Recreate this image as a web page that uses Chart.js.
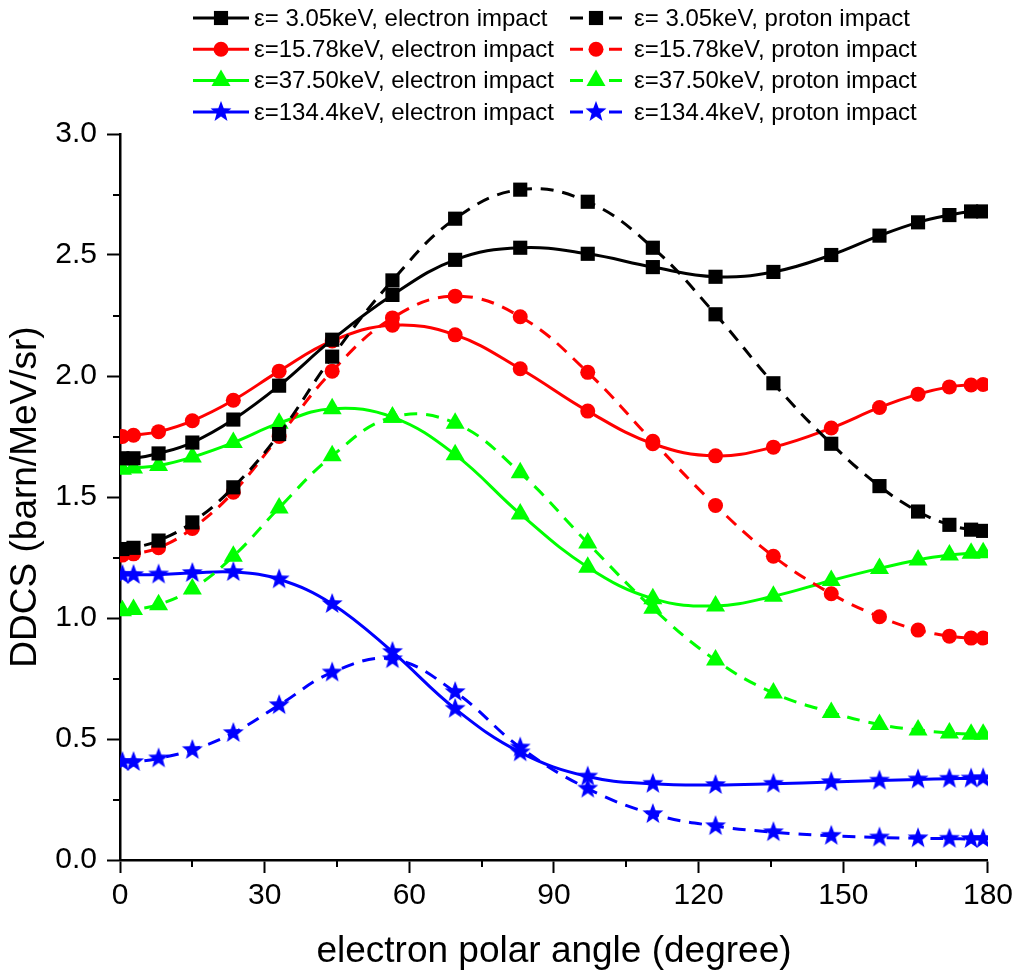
<!DOCTYPE html>
<html>
<head>
<meta charset="utf-8">
<script src="https://cdn.jsdelivr.net/npm/chart.js@4/dist/chart.umd.min.js"></script>
<style>
  html, body { margin: 0; padding: 0; background: #fff; }
  #wrap { width: 1018px; height: 971px; }
</style>
</head>
<body>
<div id="wrap"><canvas id="ddcs" width="1018" height="971"></canvas></div>
<script>
// electron polar angles (degree)
var angles = [0.5, 2.8, 8, 15, 23.5, 33, 44, 56.5, 69.5, 83, 97, 110.5, 123.5, 135.5, 147.5, 157.5, 165.5, 172, 176.5, 179];

// DDCS values (barn/MeV/sr)
var e305El  = [1.66, 1.66, 1.68, 1.725, 1.82, 1.96, 2.15, 2.335, 2.48, 2.53, 2.505, 2.45, 2.41, 2.43, 2.50, 2.58, 2.635, 2.665, 2.68, 2.68];
var e305Pr  = [1.285, 1.29, 1.32, 1.395, 1.54, 1.76, 2.08, 2.395, 2.65, 2.77, 2.72, 2.53, 2.255, 1.97, 1.72, 1.545, 1.44, 1.385, 1.365, 1.36];
var e1578El = [1.75, 1.755, 1.77, 1.815, 1.90, 2.02, 2.145, 2.21, 2.17, 2.03, 1.855, 1.72, 1.67, 1.706, 1.785, 1.87, 1.925, 1.955, 1.963, 1.965];
var e1578Pr = [1.26, 1.265, 1.29, 1.37, 1.52, 1.75, 2.02, 2.24, 2.33, 2.245, 2.015, 1.73, 1.465, 1.255, 1.10, 1.005, 0.95, 0.925, 0.917, 0.917];
var e3750El = [1.615, 1.62, 1.63, 1.665, 1.725, 1.805, 1.865, 1.83, 1.675, 1.43, 1.21, 1.08, 1.05, 1.09, 1.155, 1.205, 1.24, 1.26, 1.268, 1.27];
var e3750Pr = [1.03, 1.035, 1.055, 1.12, 1.255, 1.455, 1.67, 1.83, 1.805, 1.60, 1.31, 1.04, 0.826, 0.69, 0.61, 0.56, 0.537, 0.525, 0.52, 0.52];
var e1344El = [1.178, 1.178, 1.18, 1.186, 1.19, 1.16, 1.058, 0.86, 0.625, 0.445, 0.345, 0.315, 0.31, 0.315, 0.322, 0.328, 0.333, 0.336, 0.337, 0.338];
var e1344Pr = [0.405, 0.405, 0.42, 0.455, 0.525, 0.64, 0.775, 0.83, 0.694, 0.465, 0.295, 0.19, 0.14, 0.115, 0.10, 0.093, 0.09, 0.088, 0.087, 0.087];

var elLabels = ['\u03b5= 3.05keV, electron impact', '\u03b5=15.78keV, electron impact', '\u03b5=37.50keV, electron impact', '\u03b5=134.4keV, electron impact'];
var prLabels = ['\u03b5= 3.05keV, proton impact', '\u03b5=15.78keV, proton impact', '\u03b5=37.50keV, proton impact', '\u03b5=134.4keV, proton impact'];

var xTicks = { min: 0, max: 180, step: 30 };
var yTicks = { min: 0, max: 3, step: 0.5 };

var FONT = 'Liberation Sans, Arial, sans-serif';

// filled five point star, Chart.js 'star' is only an outline
var makeStar = function (color) {
    var c = document.createElement('canvas');
    c.width = 24; c.height = 24;
    var g = c.getContext('2d');
    g.beginPath();
    for (var i = 0; i < 10; i++) {
        var r = i % 2 === 0 ? 11 : 4.6;
        var a = -Math.PI / 2 + i * Math.PI / 5;
        g.lineTo(12 + r * Math.cos(a), 12 + r * Math.sin(a));
    }
    g.closePath();
    g.fillStyle = color;
    g.fill();
    return c;
};

var styles = [
    { color: '#000000', point: 'rect', radius: 10 },
    { color: '#ff0000', point: 'circle', radius: 7.5 },
    { color: '#00ff00', point: 'triangle', radius: 11 },
    { color: '#0000ff', point: makeStar('#0000ff'), radius: 11 }
];

var toXY = function (vals) {
    return angles.map(function (a, i) { return { x: a, y: vals[i] }; });
};

var series = [
    [e305El, e305Pr],
    [e1578El, e1578Pr],
    [e3750El, e3750Pr],
    [e1344El, e1344Pr]
];

var datasets = [];
series.forEach(function (pair, k) {
    var s = styles[k];
    [0, 1].forEach(function (j) {
        datasets.push({
            label: j === 0 ? elLabels[k] : prLabels[k],
            data: toXY(pair[j]),
            borderColor: s.color,
            backgroundColor: s.color,
            borderWidth: 3,
            borderDash: j === 0 ? [] : [13, 9],
            tension: 0.4,
            pointStyle: s.point,
            pointRadius: s.radius,
            pointBorderWidth: 0,
            pointBackgroundColor: s.color,
            legendCol: j,
            legendRow: k
        });
    });
});

// legend: line sample + marker, two columns
var legendPlugin = {
    id: 'ddcsLegend',
    afterDraw: function (chart) {
        var ctx = chart.ctx;
        ctx.save();
        ctx.font = '24px ' + FONT;
        ctx.textBaseline = 'middle';
        ctx.fillStyle = '#000';
        chart.data.datasets.forEach(function (ds) {
            var y = 18 + ds.legendRow * 31.3;
            var x0 = ds.legendCol === 0 ? 193 : 570;
            var x1 = ds.legendCol === 0 ? 249 : 622;
            var mx = ds.legendCol === 0 ? 221 : 596;
            var tx = ds.legendCol === 0 ? 254 : 634;
            ctx.strokeStyle = ds.borderColor;
            ctx.lineWidth = 3;
            ctx.setLineDash(ds.legendCol === 0 ? [] : [13, 26]);
            ctx.beginPath();
            ctx.moveTo(x0, y);
            ctx.lineTo(x1, y);
            ctx.stroke();
            ctx.setLineDash([]);
            ctx.fillStyle = ds.borderColor;
            Chart.helpers.drawPoint(ctx, {
                pointStyle: ds.pointStyle, radius: ds.pointRadius, rotation: 0, borderWidth: 0
            }, mx, y);
            ctx.fillStyle = '#000';
            ctx.fillText(ds.label, tx, y + 1);
        });
        ctx.restore();
    }
};

// minor ticks between the labelled ones
var minorTicks = {
    id: 'minorTicks',
    afterDraw: function (chart) {
        var ctx = chart.ctx, xs = chart.scales.x, ys = chart.scales.y;
        var area = chart.chartArea;
        ctx.save();
        ctx.strokeStyle = '#000';
        ctx.lineWidth = 2;
        ctx.beginPath();
        for (var v = xTicks.min + xTicks.step / 2; v < xTicks.max; v += xTicks.step) {
            var px = Math.round(xs.getPixelForValue(v));
            ctx.moveTo(px, area.bottom);
            ctx.lineTo(px, area.bottom + 7);
        }
        for (var w = yTicks.min + yTicks.step / 2; w < yTicks.max; w += yTicks.step) {
            var py = Math.round(ys.getPixelForValue(w));
            ctx.moveTo(area.left, py);
            ctx.lineTo(area.left - 7, py);
        }
        ctx.stroke();
        ctx.restore();
    }
};

Chart.defaults.font.family = FONT;
Chart.defaults.color = '#000';

new Chart(document.getElementById('ddcs'), {
    type: 'line',
    data: { datasets: datasets },
    options: {
        responsive: false,
        animation: false,
        layout: { padding: { top: 134, right: 28, left: 0, bottom: 0 } },
        plugins: {
            legend: { display: false },
            tooltip: { enabled: false }
        },
        scales: {
            x: {
                type: 'linear',
                min: xTicks.min,
                max: xTicks.max,
                afterFit: function (scale) { scale.height = 111; },
                ticks: { stepSize: xTicks.step, font: { size: 30 }, padding: 5, color: '#000', maxRotation: 0 },
                grid: { drawOnChartArea: false, drawTicks: true, tickLength: 13, tickWidth: 2, tickColor: '#000' },
                border: { display: true, color: '#000', width: 2.5 },
                title: {
                    display: true,
                    text: 'electron polar angle (degree)',
                    font: { size: 37, lineHeight: 1 },
                    padding: { top: 0, bottom: 1 },
                    color: '#000'
                }
            },
            y: {
                min: yTicks.min,
                max: yTicks.max,
                afterFit: function (scale) { scale.width = 120; },
                ticks: {
                    stepSize: yTicks.step,
                    font: { size: 30 },
                    padding: 10,
                    color: '#000',
                    callback: function (v) { return v.toFixed(1); }
                },
                grid: { drawOnChartArea: false, drawTicks: true, tickLength: 13, tickWidth: 2, tickColor: '#000' },
                border: { display: true, color: '#000', width: 2.5 },
                title: {
                    display: true,
                    text: 'DDCS (barn/MeV/sr)',
                    font: { size: 37, lineHeight: 1 },
                    padding: { top: 7, bottom: 0 },
                    color: '#000'
                }
            }
        }
    },
    plugins: [legendPlugin, minorTicks]
});
</script>
</body>
</html>
